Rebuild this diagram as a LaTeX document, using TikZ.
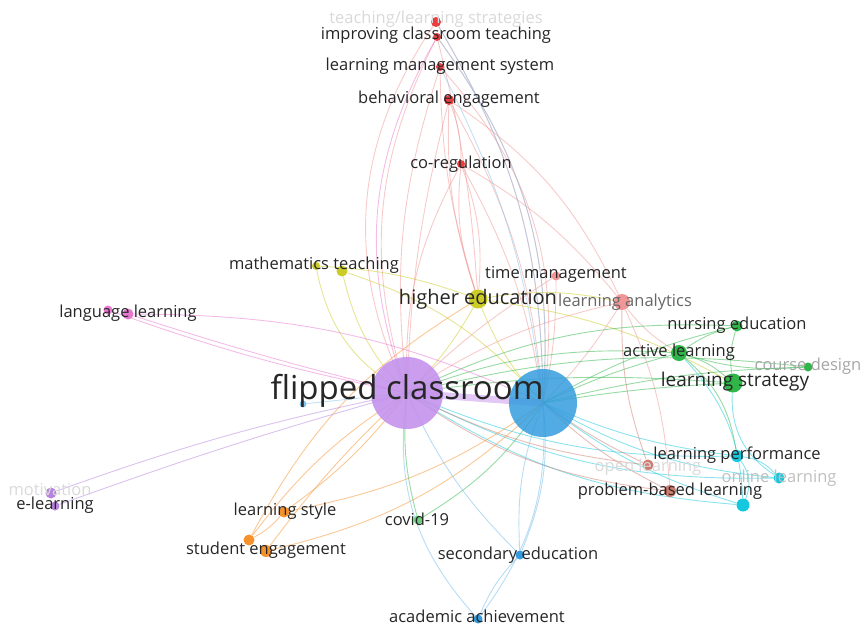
\documentclass[tikz,border=0pt]{standalone}
\usepackage{fontspec}
\setmainfont{Open Sans}
\usetikzlibrary{backgrounds}

\definecolor{cred}{RGB}{232,62,66}
\definecolor{csalmon}{RGB}{240,150,150}
\definecolor{cpurple}{RGB}{196,146,236}
\definecolor{cblue}{RGB}{52,156,222}
\definecolor{cyellow}{RGB}{204,204,40}
\definecolor{cgreen}{RGB}{48,182,72}
\definecolor{cpink}{RGB}{232,120,208}
\definecolor{ccyan}{RGB}{22,200,222}
\definecolor{corange}{RGB}{246,146,44}
\definecolor{cbrown}{RGB}{206,124,112}
\definecolor{clilac}{RGB}{182,132,222}

\begin{document}
\begin{tikzpicture}[
        x=1pt, y=-1pt,
        dot/.style={circle, inner sep=0pt, minimum size=10pt},
        lab/.style={inner sep=0pt, text=black!85, font=\fontsize{16.5}{18}\selectfont},
        faint/.style={lab, text=black!15},
        link/.style={line width=0.9pt, opacity=0.5}
    ]
        \useasboundingbox (0,0) rectangle (861,627);

        % Hubs
        \node[dot, minimum size=72pt, fill=cpurple, fill opacity=0.9] (fc) at (407,393) {};
        \node[dot, minimum size=68pt, fill=cblue, fill opacity=0.85] (bl) at (543,403) {};

        % Red cluster
        \node[dot, fill=cred] (tls) at (436,22) {};
        \node[dot, minimum size=8pt, fill=cred] (ict) at (437,37) {};
        \node[dot, minimum size=8pt, fill=cred] (lms) at (440,67) {};
        \node[dot, fill=cred] (beh) at (449,100) {};
        \node[dot, minimum size=8pt, fill=cred] (coreg) at (461,164) {};
        \node[dot, minimum size=9pt, fill=csalmon] (tm) at (556,276) {};
        \node[dot, minimum size=16pt, fill=csalmon] (la) at (622,302) {};

        % Yellow cluster
        \node[dot, minimum size=8pt, fill=cyellow] (math1) at (316,266) {};
        \node[dot, minimum size=11pt, fill=cyellow] (math2) at (342,271) {};
        \node[dot, minimum size=19pt, fill=cyellow] (he) at (478,299) {};

        % Green cluster
        \node[dot, minimum size=11pt, fill=cgreen] (nurse) at (737,326) {};
        \node[dot, minimum size=16pt, fill=cgreen] (active) at (679,353) {};
        \node[dot, minimum size=9pt, fill=cgreen] (course) at (808,367) {};
        \node[dot, minimum size=19pt, fill=cgreen] (lstrat) at (733,383) {};
        \node[dot, minimum size=9pt, fill=cgreen!70] (covid) at (418,520) {};

        % Pink and purple
        \node[dot, minimum size=9pt, fill=cpink] (lang1) at (108,310) {};
        \node[dot, minimum size=11pt, fill=cpink] (lang2) at (128,314) {};
        \node[dot, minimum size=11pt, fill=clilac] (motiv) at (51,493) {};
        \node[dot, minimum size=9pt, fill=clilac] (elearn) at (55,506) {};

        % Cyan and brown
        \node[dot, minimum size=12pt, fill=ccyan] (lperf) at (737,456) {};
        \node[dot, minimum size=11pt, fill=ccyan] (online) at (779,478) {};
        \node[dot, minimum size=13pt, fill=ccyan] (cyan2) at (743,505) {};
        \node[dot, minimum size=11pt, fill=cbrown] (open) at (648,465) {};
        \node[dot, minimum size=12pt, fill=cbrown] (pbl) at (670,491) {};

        % Orange and blue
        \node[dot, minimum size=11pt, fill=corange] (lstyle) at (284,512) {};
        \node[dot, minimum size=11pt, fill=corange] (seng1) at (249,540) {};
        \node[dot, minimum size=12pt, fill=corange] (seng2) at (266,551) {};
        \node[dot, minimum size=9pt, fill=cblue] (sec) at (520,555) {};
        \node[dot, minimum size=9pt, fill=cblue] (acad) at (478,619) {};
        \node[dot, minimum size=7pt, fill=cblue!60] (bdot) at (303,404) {};

        % Links
        \begin{scope}[on background layer]
        \draw[line width=7pt, cpurple, opacity=0.5] (fc.center) -- (bl.center);
        \draw[link, csalmon] (tls) to[bend right=30] (fc.center);
        \draw[link, csalmon] (tls) to[bend left=15] (bl.center);
        \draw[link, csalmon] (ict) to[bend right=22] (fc.center);
        \draw[link, csalmon] (ict) to[bend left=20] (bl.center);
        \draw[link, csalmon] (ict) to[bend left=5] (he);
        \draw[link, csalmon] (lms) to[bend right=12] (fc.center);
        \draw[link, csalmon] (lms) to[bend left=25] (bl.center);
        \draw[link, csalmon] (lms) to[bend right=8] (he);
        \draw[link, csalmon] (beh) to[bend right=6] (fc.center);
        \draw[link, csalmon] (beh) to[bend left=12] (bl.center);
        \draw[link, csalmon] (beh) to[bend right=10] (he);
        \draw[link, csalmon] (beh) to[bend left=15] (la);
        \draw[link, csalmon] (beh) to[bend left=10] (coreg);
        \draw[link, csalmon] (coreg) to[bend right=12] (he);
        \draw[link, csalmon] (coreg) to[bend left=12] (he);
        \draw[link, csalmon] (coreg) to[bend right=15] (fc.center);
        \draw[link, csalmon] (coreg) to[bend left=10] (bl.center);
        \draw[link, csalmon] (coreg) to[bend left=10] (la);
        \draw[link, csalmon] (tm) to[bend right=6] (fc.center);
        \draw[link, csalmon] (tm) to[bend left=6] (bl.center);
        \draw[link, csalmon] (la) to[bend right=10] (fc.center);
        \draw[link, csalmon] (la) to[bend left=6] (bl.center);
        \draw[link, csalmon] (la) to[bend right=10] (active);
        \draw[link, csalmon] (la) to[bend left=10] (pbl);
        \draw[link, cblue!60] (bl.center) to[bend right=15] (tls);
        \draw[link, cblue!60] (bl.center) to[bend right=20] (ict);
        \draw[link, cblue!60] (bl.center) to[bend right=10] (lms);
        \draw[link, cpink] (fc.center) to[bend left=25] (ict);

        \draw[link, cyellow] (math1) to[bend right=25] (fc.center);
        \draw[link, cyellow] (math2) to[bend right=15] (fc.center);
        \draw[link, cyellow] (math1) to[bend left=8] (he);
        \draw[link, cyellow] (math2) to[bend left=15] (bl.center);
        \draw[link, cyellow] (he) to[bend left=8] (fc.center);
        \draw[link, cyellow] (he) to[bend right=10] (bl.center);
        \draw[link, cyellow] (he) to[bend left=10] (la);
        \draw[link, cyellow] (he) to[bend left=10] (lstrat);

        \draw[link, cgreen] (active) to[bend right=5] (bl.center);
        \draw[link, cgreen] (active) to[bend right=12] (fc.center);
        \draw[link, cgreen] (nurse) to[bend right=8] (bl.center);
        \draw[link, cgreen] (nurse) to[bend right=14] (fc.center);
        \draw[link, cgreen] (course) to[bend right=6] (bl.center);
        \draw[link, cgreen] (course) to[bend right=10] (fc.center);
        \draw[link, cgreen] (lstrat) to[bend right=3] (bl.center);
        \draw[link, cgreen] (lstrat) to[bend right=6] (fc.center);
        \draw[link, cgreen] (lstrat) to[bend right=12] (active);
        \draw[link, cgreen] (lstrat) to[bend left=12] (nurse);
        \draw[link, cgreen] (course) to[bend left=10] (active);
        \draw[link, cgreen] (nurse) to[bend right=10] (active);
        \draw[link, cgreen] (active) to[bend left=20] (lperf);
        \draw[link, cgreen] (covid) to[bend right=12] (bl.center);
        \draw[link, cgreen] (covid) to[bend left=10] (fc.center);

        \draw[link, ccyan] (lperf) to[bend left=8] (bl.center);
        \draw[link, ccyan] (lperf) to[bend left=12] (fc.center);
        \draw[link, ccyan] (online) to[bend left=12] (bl.center);
        \draw[link, ccyan] (online) to[bend left=14] (fc.center);
        \draw[link, ccyan] (cyan2) to[bend left=10] (bl.center);
        \draw[link, ccyan] (cyan2) to[bend left=14] (fc.center);
        \draw[link, ccyan] (online) to[bend right=20] (lperf);
        \draw[link, ccyan] (cyan2) to[bend right=30] (lperf);
        \draw[link, ccyan] (online) to[bend left=30] (lstrat);
        \draw[link, ccyan] (cyan2) to[bend right=20] (active);

        \draw[link, cbrown] (pbl) to[bend left=8] (bl.center);
        \draw[link, cbrown] (pbl) to[bend left=14] (fc.center);
        \draw[link, cbrown] (open) to[bend left=5] (bl.center);
        \draw[link, cbrown] (open) to[bend left=10] (fc.center);
        \draw[link, cbrown] (open) to[bend left=10] (la);

        \draw[link, corange] (lstyle) to[bend right=8] (fc.center);
        \draw[link, corange] (lstyle) to[bend right=12] (bl.center);
        \draw[link, corange] (seng1) to[bend left=10] (fc.center);
        \draw[link, corange] (seng2) to[bend left=5] (fc.center);
        \draw[link, corange] (seng2) to[bend right=15] (bl.center);
        \draw[link, corange] (seng1) to[bend left=15] (he);
        \draw[link, corange] (seng1) to[bend right=10] (lstyle);

        \draw[link, cblue!70] (sec) to[bend left=12] (bl.center);
        \draw[link, cblue!70] (sec) to[bend right=14] (bl.center);
        \draw[link, cblue!70] (sec) to[bend left=10] (fc.center);
        \draw[link, cblue!70] (acad) to[bend left=25] (fc.center);
        \draw[link, cblue!70] (acad) to[bend right=20] (bl.center);
        \draw[link, cblue!70] (acad) to[bend left=10] (sec);
        \draw[link, cblue!60] (bdot) to (fc.center);

        \draw[link, cpink] (lang1) to[bend right=4] (fc.center);
        \draw[link, cpink] (lang2) to[bend right=2] (fc.center);
        \draw[link, cpink] (lang2) to[bend left=12] (bl.center);
        \draw[link, clilac] (motiv) to[bend left=4] (fc.center);
        \draw[link, clilac] (elearn) to[bend left=2] (fc.center);
        \end{scope}

        % Labels
        \node[faint] (tls-l) at (436,19) {teaching/learning strategies};
        \node[lab] (ict-l) at (436,35) {improving classroom teaching};
        \node[lab] (lms-l) at (440,66) {learning management system};
        \node[lab] (beh-l) at (449,99) {behavioral engagement};
        \node[lab] (coreg-l) at (461,164) {co-regulation};
        \node[lab] (math-l) at (314,265) {mathematics teaching};
        \node[lab] (tm-l) at (556,274) {time management};
        \node[lab, font=\fontsize{20}{22}\selectfont] (he-l) at (478,299) {higher education};
        \node[lab, text=black!60] (la-l) at (625,302) {learning analytics};
        \node[lab] (nurse-l) at (737,325) {nursing education};
        \node[lab] (active-l) at (679,352) {active learning};
        \node[faint, text=black!35] (course-l) at (808,366) {course design};
        \node[lab, font=\fontsize{19}{21}\selectfont] (lstrat-l) at (735,382) {learning strategy};
        \node[lab] (lang-l) at (128,313) {language learning};
        \node[lab, font=\fontsize{33}{35}\selectfont] (fc-l) at (407,391) {flipped classroom};
        \node[faint] (motiv-l) at (50,490) {motivation};
        \node[lab] (elearn-l) at (55,505) {e-learning};
        \node[lab] (lperf-l) at (737,455) {learning performance};
        \node[faint] (open-l) at (648,467) {open learning};
        \node[faint, text=black!25] (online-l) at (779,478) {online learning};
        \node[lab] (pbl-l) at (670,491) {problem-based learning};
        \node[lab] (lstyle-l) at (285,511) {learning style};
        \node[lab] (covid-l) at (417,519) {covid-19};
        \node[lab] (seng-l) at (266,550) {student engagement};
        \node[lab] (sec-l) at (518,555) {secondary education};
        \node[lab] (acad-l) at (477,616) {academic achievement};
    \end{tikzpicture}
\end{document}
